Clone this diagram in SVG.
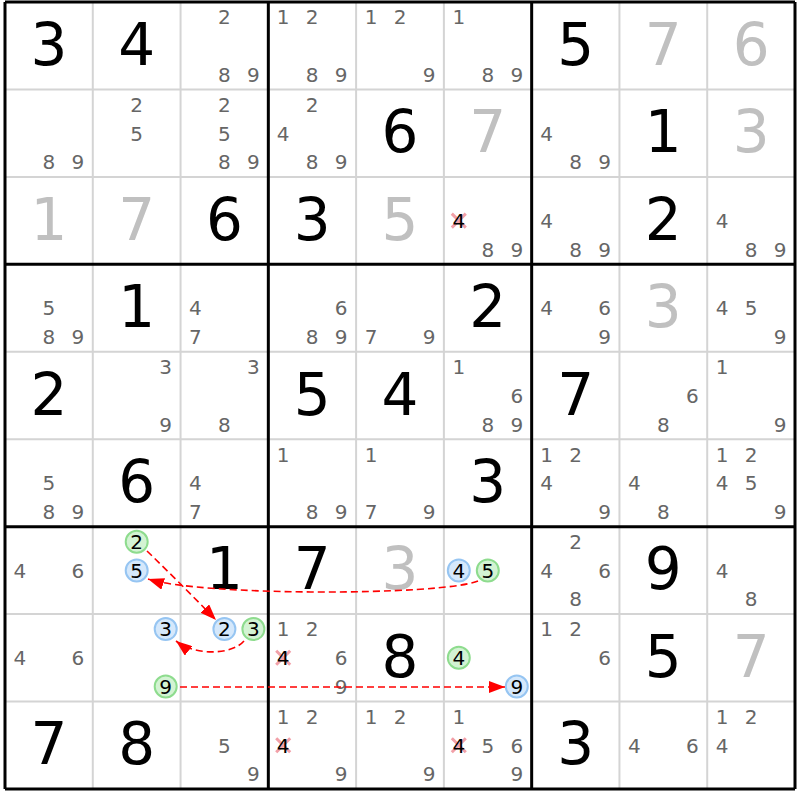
<svg xmlns="http://www.w3.org/2000/svg" xmlns:xlink="http://www.w3.org/1999/xlink" width="800" height="800" viewBox="0 0 800 800">
<style>
text{font-family:"DejaVu Sans","Noto Sans",sans-serif;text-anchor:middle}
.b{font-size:58px;fill:#000}
.s{font-size:58px;fill:#c0c0c0}
.c{font-size:20px;fill:#666}
.k{font-size:20px;fill:#000}
.thin{stroke:#d4d4d4;stroke-width:2;fill:none}
.thick{stroke:#000;stroke-width:3;fill:none}
.cb{fill:#d5e8fb;stroke:#96c5f2;stroke-width:2}
.cg{fill:#d3f3d3;stroke:#8edc8e;stroke-width:2}
.xm{stroke:#f2a0a8;stroke-width:3;fill:none}
.arr{stroke:#ff0000;stroke-width:1.6;fill:none;stroke-dasharray:7,4;marker-end:url(#ah)}
</style>
<defs>
<marker id="ah" markerUnits="userSpaceOnUse" markerWidth="16" markerHeight="12" viewBox="0 0 16 12" refX="16" refY="6" orient="auto">
<path d="M0,0 L16,6 L0,12 z" fill="#ff0000"/>
</marker>
<path id="xm" class="xm" d="M-7,-7 L7,7 M7,-7 L-7,7"/>
</defs>
<rect x="0" y="0" width="800" height="800" fill="#fff"/>
<g id="grid">
<path class="thin" d="M92.78,2 V789 M180.56,2 V789 M356.11,2 V789 M443.89,2 V789 M619.44,2 V789 M707.22,2 V789 M5,89.44 H795 M5,176.88 H795 M5,351.76 H795 M5,439.2 H795 M5,614.08 H795 M5,701.52 H795"/>
<path class="thick" d="M5,2 V789 M268.33,2 V789 M531.67,2 V789 M795,2 V789 M5,2 H795 M5,264.32 H795 M5,526.64 H795 M5,788.96 H795"/>
</g>
<g id="r0">
<g id="r0c0"><text class="b" x="48.9" y="64.7">3</text></g>
<g id="r0c1"><text class="b" x="136.7" y="64.7">4</text></g>
<g id="r0c2"><text class="c" x="224.4" y="24.3">2</text><text class="c" x="224.4" y="81.7">8</text><text class="c" x="253.4" y="81.7">9</text></g>
<g id="r0c3"><text class="c" x="283.2" y="24.3">1</text><text class="c" x="312.2" y="24.3">2</text><text class="c" x="312.2" y="81.7">8</text><text class="c" x="341.2" y="81.7">9</text></g>
<g id="r0c4"><text class="c" x="371" y="24.3">1</text><text class="c" x="400" y="24.3">2</text><text class="c" x="429" y="81.7">9</text></g>
<g id="r0c5"><text class="c" x="458.8" y="24.3">1</text><text class="c" x="487.8" y="81.7">8</text><text class="c" x="516.8" y="81.7">9</text></g>
<g id="r0c6"><text class="b" x="575.6" y="64.7">5</text></g>
<g id="r0c7"><text class="s" x="663.3" y="64.7">7</text></g>
<g id="r0c8"><text class="s" x="751.1" y="64.7">6</text></g>
</g>
<g id="r1">
<g id="r1c0"><text class="c" x="48.9" y="169.2">8</text><text class="c" x="77.9" y="169.2">9</text></g>
<g id="r1c1"><text class="c" x="136.7" y="111.8">2</text><text class="c" x="136.7" y="140.5">5</text></g>
<g id="r1c2"><text class="c" x="224.4" y="111.8">2</text><text class="c" x="224.4" y="140.5">5</text><text class="c" x="224.4" y="169.2">8</text><text class="c" x="253.4" y="169.2">9</text></g>
<g id="r1c3"><text class="c" x="312.2" y="111.8">2</text><text class="c" x="283.2" y="140.5">4</text><text class="c" x="312.2" y="169.2">8</text><text class="c" x="341.2" y="169.2">9</text></g>
<g id="r1c4"><text class="b" x="400" y="152.2">6</text></g>
<g id="r1c5"><text class="s" x="487.8" y="152.2">7</text></g>
<g id="r1c6"><text class="c" x="546.6" y="140.5">4</text><text class="c" x="575.6" y="169.2">8</text><text class="c" x="604.6" y="169.2">9</text></g>
<g id="r1c7"><text class="b" x="663.3" y="152.2">1</text></g>
<g id="r1c8"><text class="s" x="751.1" y="152.2">3</text></g>
</g>
<g id="r2">
<g id="r2c0"><text class="s" x="48.9" y="239.6">1</text></g>
<g id="r2c1"><text class="s" x="136.7" y="239.6">7</text></g>
<g id="r2c2"><text class="b" x="224.4" y="239.6">6</text></g>
<g id="r2c3"><text class="b" x="312.2" y="239.6">3</text></g>
<g id="r2c4"><text class="s" x="400" y="239.6">5</text></g>
<g id="r2c5"><use xlink:href="#xm" x="458.8" y="220.6"/><text class="k" x="458.8" y="227.9">4</text><text class="c" x="487.8" y="256.6">8</text><text class="c" x="516.8" y="256.6">9</text></g>
<g id="r2c6"><text class="c" x="546.6" y="227.9">4</text><text class="c" x="575.6" y="256.6">8</text><text class="c" x="604.6" y="256.6">9</text></g>
<g id="r2c7"><text class="b" x="663.3" y="239.6">2</text></g>
<g id="r2c8"><text class="c" x="722.1" y="227.9">4</text><text class="c" x="751.1" y="256.6">8</text><text class="c" x="780.1" y="256.6">9</text></g>
</g>
<g id="r3">
<g id="r3c0"><text class="c" x="48.9" y="315.3">5</text><text class="c" x="48.9" y="344">8</text><text class="c" x="77.9" y="344">9</text></g>
<g id="r3c1"><text class="b" x="136.7" y="327">1</text></g>
<g id="r3c2"><text class="c" x="195.4" y="315.3">4</text><text class="c" x="195.4" y="344">7</text></g>
<g id="r3c3"><text class="c" x="341.2" y="315.3">6</text><text class="c" x="312.2" y="344">8</text><text class="c" x="341.2" y="344">9</text></g>
<g id="r3c4"><text class="c" x="371" y="344">7</text><text class="c" x="429" y="344">9</text></g>
<g id="r3c5"><text class="b" x="487.8" y="327">2</text></g>
<g id="r3c6"><text class="c" x="546.6" y="315.3">4</text><text class="c" x="604.6" y="315.3">6</text><text class="c" x="604.6" y="344">9</text></g>
<g id="r3c7"><text class="s" x="663.3" y="327">3</text></g>
<g id="r3c8"><text class="c" x="722.1" y="315.3">4</text><text class="c" x="751.1" y="315.3">5</text><text class="c" x="780.1" y="344">9</text></g>
</g>
<g id="r4">
<g id="r4c0"><text class="b" x="48.9" y="414.5">2</text></g>
<g id="r4c1"><text class="c" x="165.7" y="374.1">3</text><text class="c" x="165.7" y="431.5">9</text></g>
<g id="r4c2"><text class="c" x="253.4" y="374.1">3</text><text class="c" x="224.4" y="431.5">8</text></g>
<g id="r4c3"><text class="b" x="312.2" y="414.5">5</text></g>
<g id="r4c4"><text class="b" x="400" y="414.5">4</text></g>
<g id="r4c5"><text class="c" x="458.8" y="374.1">1</text><text class="c" x="516.8" y="402.8">6</text><text class="c" x="487.8" y="431.5">8</text><text class="c" x="516.8" y="431.5">9</text></g>
<g id="r4c6"><text class="b" x="575.6" y="414.5">7</text></g>
<g id="r4c7"><text class="c" x="692.3" y="402.8">6</text><text class="c" x="663.3" y="431.5">8</text></g>
<g id="r4c8"><text class="c" x="722.1" y="374.1">1</text><text class="c" x="780.1" y="431.5">9</text></g>
</g>
<g id="r5">
<g id="r5c0"><text class="c" x="48.9" y="490.2">5</text><text class="c" x="48.9" y="518.9">8</text><text class="c" x="77.9" y="518.9">9</text></g>
<g id="r5c1"><text class="b" x="136.7" y="501.9">6</text></g>
<g id="r5c2"><text class="c" x="195.4" y="490.2">4</text><text class="c" x="195.4" y="518.9">7</text></g>
<g id="r5c3"><text class="c" x="283.2" y="461.5">1</text><text class="c" x="312.2" y="518.9">8</text><text class="c" x="341.2" y="518.9">9</text></g>
<g id="r5c4"><text class="c" x="371" y="461.5">1</text><text class="c" x="371" y="518.9">7</text><text class="c" x="429" y="518.9">9</text></g>
<g id="r5c5"><text class="b" x="487.8" y="501.9">3</text></g>
<g id="r5c6"><text class="c" x="546.6" y="461.5">1</text><text class="c" x="575.6" y="461.5">2</text><text class="c" x="546.6" y="490.2">4</text><text class="c" x="604.6" y="518.9">9</text></g>
<g id="r5c7"><text class="c" x="634.3" y="490.2">4</text><text class="c" x="663.3" y="518.9">8</text></g>
<g id="r5c8"><text class="c" x="722.1" y="461.5">1</text><text class="c" x="751.1" y="461.5">2</text><text class="c" x="722.1" y="490.2">4</text><text class="c" x="751.1" y="490.2">5</text><text class="c" x="780.1" y="518.9">9</text></g>
</g>
<g id="r6">
<g id="r6c0"><text class="c" x="19.9" y="577.7">4</text><text class="c" x="77.9" y="577.7">6</text></g>
<g id="r6c1"><circle class="cg" cx="136.7" cy="541.7" r="11"/><text class="k" x="136.7" y="549">2</text><circle class="cb" cx="136.7" cy="570.4" r="11"/><text class="k" x="136.7" y="577.7">5</text></g>
<g id="r6c2"><text class="b" x="224.4" y="589.4">1</text></g>
<g id="r6c3"><text class="b" x="312.2" y="589.4">7</text></g>
<g id="r6c4"><text class="s" x="400" y="589.4">3</text></g>
<g id="r6c5"><circle class="cb" cx="458.8" cy="570.4" r="11"/><text class="k" x="458.8" y="577.7">4</text><circle class="cg" cx="487.8" cy="570.4" r="11"/><text class="k" x="487.8" y="577.7">5</text></g>
<g id="r6c6"><text class="c" x="575.6" y="549">2</text><text class="c" x="546.6" y="577.7">4</text><text class="c" x="604.6" y="577.7">6</text><text class="c" x="575.6" y="606.4">8</text></g>
<g id="r6c7"><text class="b" x="663.3" y="589.4">9</text></g>
<g id="r6c8"><text class="c" x="722.1" y="577.7">4</text><text class="c" x="751.1" y="606.4">8</text></g>
</g>
<g id="r7">
<g id="r7c0"><text class="c" x="19.9" y="665.1">4</text><text class="c" x="77.9" y="665.1">6</text></g>
<g id="r7c1"><circle class="cb" cx="165.7" cy="629.1" r="11"/><text class="k" x="165.7" y="636.4">3</text><circle class="cg" cx="165.7" cy="686.5" r="11"/><text class="k" x="165.7" y="693.8">9</text></g>
<g id="r7c2"><circle class="cb" cx="224.4" cy="629.1" r="11"/><text class="k" x="224.4" y="636.4">2</text><circle class="cg" cx="253.4" cy="629.1" r="11"/><text class="k" x="253.4" y="636.4">3</text></g>
<g id="r7c3"><text class="c" x="283.2" y="636.4">1</text><text class="c" x="312.2" y="636.4">2</text><use xlink:href="#xm" x="283.2" y="657.8"/><text class="k" x="283.2" y="665.1">4</text><text class="c" x="341.2" y="665.1">6</text><text class="c" x="341.2" y="693.8">9</text></g>
<g id="r7c4"><text class="b" x="400" y="676.8">8</text></g>
<g id="r7c5"><circle class="cg" cx="458.8" cy="657.8" r="11"/><text class="k" x="458.8" y="665.1">4</text><circle class="cb" cx="516.8" cy="686.5" r="11"/><text class="k" x="516.8" y="693.8">9</text></g>
<g id="r7c6"><text class="c" x="546.6" y="636.4">1</text><text class="c" x="575.6" y="636.4">2</text><text class="c" x="604.6" y="665.1">6</text></g>
<g id="r7c7"><text class="b" x="663.3" y="676.8">5</text></g>
<g id="r7c8"><text class="s" x="751.1" y="676.8">7</text></g>
</g>
<g id="r8">
<g id="r8c0"><text class="b" x="48.9" y="764.2">7</text></g>
<g id="r8c1"><text class="b" x="136.7" y="764.2">8</text></g>
<g id="r8c2"><text class="c" x="224.4" y="752.5">5</text><text class="c" x="253.4" y="781.2">9</text></g>
<g id="r8c3"><text class="c" x="283.2" y="723.8">1</text><text class="c" x="312.2" y="723.8">2</text><use xlink:href="#xm" x="283.2" y="745.2"/><text class="k" x="283.2" y="752.5">4</text><text class="c" x="341.2" y="781.2">9</text></g>
<g id="r8c4"><text class="c" x="371" y="723.8">1</text><text class="c" x="400" y="723.8">2</text><text class="c" x="429" y="781.2">9</text></g>
<g id="r8c5"><text class="c" x="458.8" y="723.8">1</text><use xlink:href="#xm" x="458.8" y="745.2"/><text class="k" x="458.8" y="752.5">4</text><text class="c" x="487.8" y="752.5">5</text><text class="c" x="516.8" y="752.5">6</text><text class="c" x="516.8" y="781.2">9</text></g>
<g id="r8c6"><text class="b" x="575.6" y="764.2">3</text></g>
<g id="r8c7"><text class="c" x="634.3" y="752.5">4</text><text class="c" x="692.3" y="752.5">6</text></g>
<g id="r8c8"><text class="c" x="722.1" y="723.8">1</text><text class="c" x="751.1" y="723.8">2</text><text class="c" x="722.1" y="752.5">4</text></g>
</g>
<g id="connectors">
<path class="arr" d="M147,551 Q180,583 216,620"/>
<path class="arr" d="M478,581 C440,596 200,596 148,579"/>
<path class="arr" d="M244,641 C232,655 195,656 176,641"/>
<path class="arr" d="M180,687 L505,687"/>
</g>
</svg>
